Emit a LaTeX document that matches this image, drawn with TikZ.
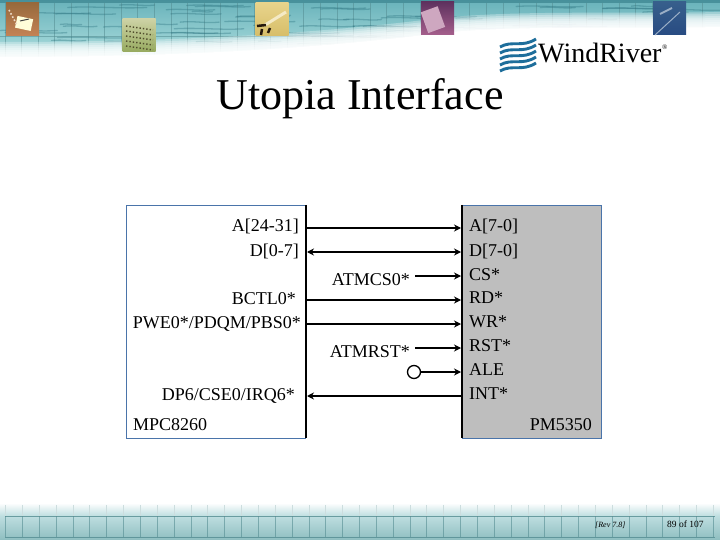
\documentclass[tikz,border=0pt]{standalone}
\usepackage{fontspec}
\setmainfont{Liberation Serif}
\usetikzlibrary{arrows.meta}
\definecolor{waterlo}{RGB}{176,224,224}
\definecolor{waterhi}{RGB}{104,178,186}
\definecolor{ripple}{RGB}{40,112,125}
\definecolor{gridline}{RGB}{84,140,145}
\definecolor{footlo}{RGB}{142,190,192}
\definecolor{foothi}{RGB}{190,222,224}
\definecolor{boxblue}{RGB}{74,116,170}
\definecolor{chipgray}{RGB}{190,190,190}
\definecolor{logoblue}{RGB}{30,110,155}
\definecolor{phonea}{RGB}{150,105,60}
\definecolor{phoneb}{RGB}{195,130,85}
\definecolor{boarda}{RGB}{205,210,165}
\definecolor{boardb}{RGB}{150,170,95}
\definecolor{toola}{RGB}{232,212,140}
\definecolor{toolb}{RGB}{215,190,105}
\definecolor{pada}{RGB}{95,50,95}
\definecolor{padb}{RGB}{165,95,140}
\definecolor{roada}{RGB}{55,95,140}
\definecolor{roadb}{RGB}{40,75,130}
\tikzset{
  sig/.style={line width=1.6pt,-{Stealth[length=7pt,width=7pt]}},
  sigboth/.style={line width=1.6pt,{Stealth[length=7pt,width=7pt]}-{Stealth[length=7pt,width=7pt]}},
  pinl/.style={font=\fontsize{18}{18}\selectfont,anchor=base east,inner sep=0pt},
  pinr/.style={font=\fontsize{18}{18}\selectfont,anchor=base west,inner sep=0pt},
  tile/.style={draw=none,minimum width=33pt,minimum height=33pt,inner sep=0pt},
}
\begin{document}
\begin{tikzpicture}[x=1pt,y=-1pt,>=stealth]
\useasboundingbox (0,0) rectangle (720,540);
\fill[white] (0,0) rectangle (720,540);
% water band on top
\fill[top color=waterhi,bottom color=waterlo] (0,0) rectangle (720,60);
\fill[ripple,opacity=0.5] (0,0) rectangle (720,3);
\foreach \x in {5,21.6,...,716}
\draw[gridline,line width=0.7pt,opacity=0.55] (\x,3)--(\x,60);
\draw[gridline,line width=0.7pt,opacity=0.55] (0,36)--(340,36);
\pgfmathsetseed{89}
\foreach \i in {1,...,80}{
\pgfmathsetmacro{\xa}{rnd*700}
\pgfmathsetmacro{\ya}{4+rnd*40}
\pgfmathsetmacro{\wa}{20+rnd*60}
\draw[ripple,line width=1.3pt,opacity=0.35,line cap=round] (\xa,\ya) .. controls (\xa+\wa/3,\ya-1.5) and (\xa+2*\wa/3,\ya+1.5) .. (\xa+\wa,\ya);
}
% white fade under the band
\foreach \d in {-14,-12,...,0}
\fill[white,opacity=0.3] (0,56+\d) .. controls (150,56+\d) and (300,50+\d) .. (440,32+\d) .. controls (520,24+\d) and (620,28+\d) .. (720,26+\d) -- (720,70) -- (0,70) -- cycle;
\fill[white] (0,57) .. controls (150,57) and (300,51) .. (440,33) .. controls (520,25) and (620,29) .. (720,27) -- (720,70) -- (0,70) -- cycle;
% the five pictures
\node[tile,top color=phonea,bottom color=phoneb] (phone) at (22.5,19) {};
\fill[white!85!yellow,rotate around={-12:(phone)}] (17,17) rectangle (33,29);
\draw[black!75,line width=1pt] (20,21)--(29,19);
\draw[white!70!brown,dotted,line width=1.6pt] (9,10)--(17,25);
\node[tile,top color=boarda,bottom color=boardb] (board) at (139,35.5) {};
\foreach \y in {26,31,...,46}
\draw[black!55!olive,dotted,line width=1.4pt] (126,\y)--(153,\y+4);
\node[tile,top color=toola,bottom color=toolb] (tool) at (272,19) {};
\draw[toola!50!white,line width=3pt] (265,25)--(286,12);
\draw[black!80!brown,line width=2.5pt] (257,26)--(266,25) (262,29)--(261,35) (268,33)--(270,28);
\node[tile,top color=pada,bottom color=padb] (pad) at (437.5,18.5) {};
\fill[padb!55!white,rotate around={20:(432,20)}] (424,9) rectangle (442,31);
\node[tile,top color=roada,bottom color=roadb] (road) at (669.5,18.5) {};
\draw[white!50!roada,line width=1pt] (655,35)--(680,12);
\draw[white!50!roada,line width=2pt] (660,14)--(672,8);
% logo
\foreach \y in {47,53,59,65,71}
\draw[logoblue,line width=2.9pt] (500,\y) .. controls (512,\y-7) and (522,\y+1) .. (536,\y-8);
\node[font=\fontsize{28}{28}\selectfont,anchor=base west,inner sep=0pt] (logoname) at (538,63) {WindRiver};
\node[font=\fontsize{7}{7}\selectfont,anchor=base west,inner sep=0pt] (logomark) at (662,50) {®};
% title
\node[font=\fontsize{44}{44}\selectfont,anchor=base,inner sep=0pt] (title) at (360,110) {Utopia Interface};
% the two chips
\fill[chipgray] (462,205) rectangle (601,438);
\draw[boxblue,line width=0.9pt] (306,205)--(126,205)--(126,438)--(306,438);
\draw[boxblue,line width=0.9pt] (462,205)--(601,205)--(601,438)--(462,438);
\draw[line width=1.6pt] (306,205)--(306,438);
\draw[line width=1.6pt] (462,205)--(462,438);
% pins on the edges of the chips
\foreach \n/\y in {1/228,2/252,3/276,4/300,5/324,6/348,7/372,8/396}{
\coordinate (l\n) at (307,\y);
\coordinate (r\n) at (461,\y);
}
\node[pinl] (a2431) at (299,232) {A[24-31]};
\node[pinl] (d07) at (299,256) {D[0-7]};
\node[pinl] (bctl) at (296,304) {BCTL0*};
\node[pinl] (pwe) at (301,328) {PWE0*/PDQM/PBS0*};
\node[pinl] (dp6) at (295,400) {DP6/CSE0/IRQ6*};
\node[anchor=base west,inner sep=0pt,font=\fontsize{18}{18}\selectfont] (mpc) at (133,430) {MPC8260};
\node[pinr] (a70) at (469,232) {A[7-0]};
\node[pinr] (d70) at (469,256) {D[7-0]};
\node[pinr] (cs) at (469,280) {CS*};
\node[pinr] (rd) at (469,303) {RD*};
\node[pinr] (wr) at (469,327) {WR*};
\node[pinr] (rst) at (469,351) {RST*};
\node[pinr] (ale) at (469,375) {ALE};
\node[pinr] (int) at (469,399) {INT*};
\node[pinl] (pm) at (592,430) {PM5350};
\node[pinl] (atmcs) at (410,285) {ATMCS0*};
\node[pinl] (atmrst) at (410,357) {ATMRST*};
\coordinate (cs0) at (415,276);
\coordinate (rst0) at (415,348);
\node[circle,draw,line width=1.3pt,minimum size=13pt,inner sep=0pt] (pull) at (414,372) {};
% signals
\draw[sig] (l1)--(r1);
\draw[sigboth] (l2)--(r2);
\draw[sig] (cs0)--(r3);
\draw[sig] (l4)--(r4);
\draw[sig] (l5)--(r5);
\draw[sig] (rst0)--(r6);
\draw[sig] (pull)--(r7);
\draw[sig] (r8)--(l8);
% footer
\fill[top color=white,bottom color=foothi] (0,503) rectangle (720,516);
\fill[top color=foothi,bottom color=footlo] (0,516) rectangle (720,540);
\foreach \x in {5.5,22.35,...,716}
\draw[gridline,line width=0.6pt,opacity=0.6] (\x,516)--(\x,537);
\foreach \x in {5.5,22.35,...,716}
\draw[gridline!30!white,line width=0.6pt] (\x,505)--(\x,516);
\draw[gridline,line width=0.8pt,opacity=0.8] (5,516)--(715,516) (5,537)--(715,537);
\node[font=\itshape\fontsize{8}{8}\selectfont,anchor=base west,inner sep=0pt] (rev) at (595,527.5) {[Rev 7.8]};
\node[font=\fontsize{9.5}{9.5}\selectfont,anchor=base west,inner sep=0pt] (pageno) at (667,527.5) {89 of 107};
\end{tikzpicture}
\end{document}
